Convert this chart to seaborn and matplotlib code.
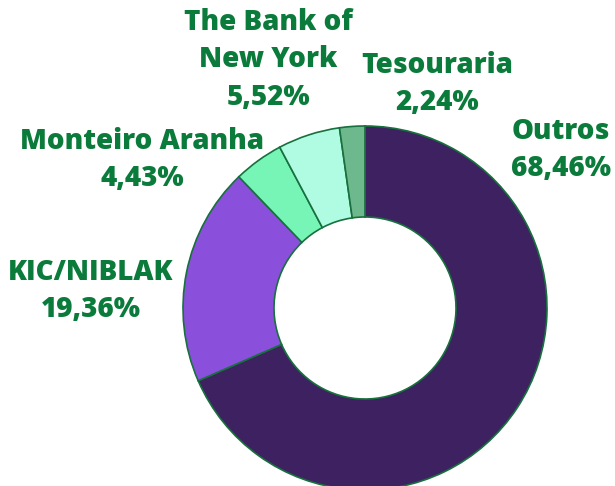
import matplotlib
matplotlib.use("Agg")
import matplotlib.pyplot as plt
import seaborn as sns

# Dados (participação acionária)
labels = ["Outros", "KIC/NIBLAK", "Monteiro Aranha", "The Bank of\nNew York", "Tesouraria"]
shares = [68.46, 19.36, 4.43, 5.52, 2.24]
pct_text = ["68,46%", "19,36%", "4,43%", "5,52%", "2,24%"]
colors = ["#3d2160", "#8a50db", "#76f5b6", "#b0fce2", "#6db98d"]

sns.set_theme(style="white")
plt.rcParams["font.family"] = ["Open Sans", "DejaVu Sans"]

TXT = "#0b7b3b"
EDGE = "#17703d"

fig = plt.figure(figsize=(6.15, 4.86), dpi=100)
ax = fig.add_axes([0, 0, 1, 1])

R = 182
ax.pie(shares, colors=colors, startangle=90, counterclock=False,
       center=(365, 178), radius=R, frame=True,
       wedgeprops=dict(width=R * 0.5, edgecolor=EDGE, linewidth=1.2))
ax.set_xlim(0, 615)
ax.set_ylim(0, 486)
ax.set_aspect("equal")
ax.axis("off")

# posições dos rótulos (pixels, origem embaixo)
label_pos = [(561, 336), (91, 195), (142, 326), (268, 426), (437, 402)]
for lab, pct, (x, y) in zip(labels, pct_text, label_pos):
    ax.text(x, y, lab + "\n" + pct, ha="center", va="center", color=TXT,
            fontsize=20, fontweight="heavy", linespacing=1.37)

fig.savefig("out.png", dpi=100, facecolor="white")
